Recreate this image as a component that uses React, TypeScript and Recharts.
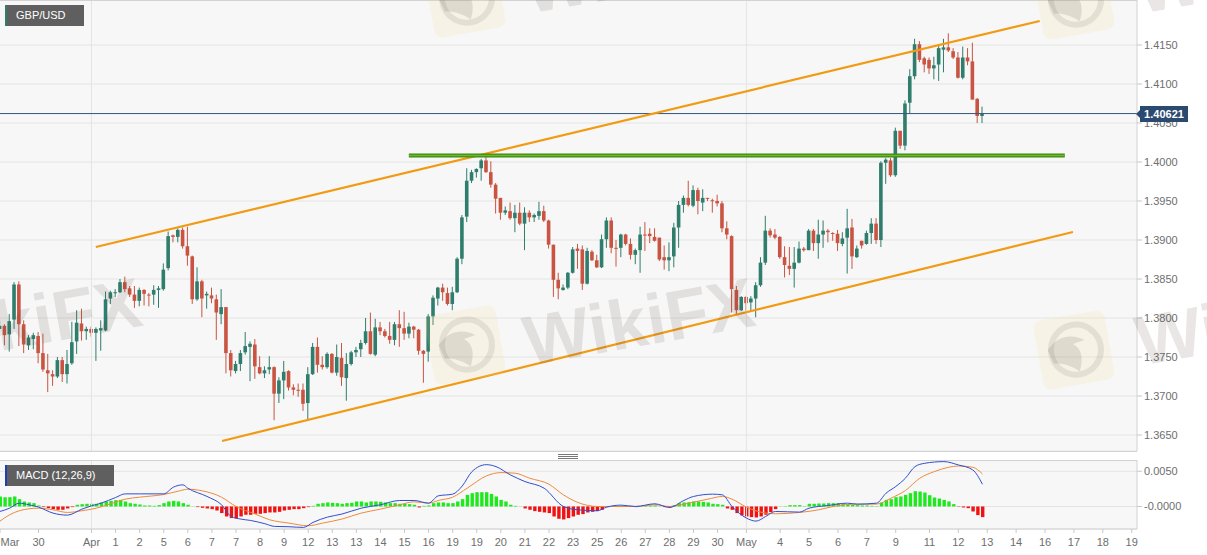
import { Bar, CartesianGrid, Cell, ComposedChart, Line, ReferenceLine, XAxis, YAxis } from 'recharts'

const opens = [
  1.3786, 1.379, 1.3779, 1.3798, 1.3843, 1.3792, 1.3765, 1.3773, 1.3777, 1.3755, 1.3733, 1.3728, 1.3725, 1.3746, 1.3728, 1.3742, 1.377, 1.3793, 1.3783, 1.3786,
  1.3781, 1.3784, 1.3784, 1.3825, 1.3832, 1.3833, 1.3846, 1.3838, 1.383, 1.3822, 1.3836, 1.383, 1.383, 1.3836, 1.3837, 1.3864, 1.3906, 1.3904, 1.3913, 1.3892,
  1.3879, 1.3824, 1.3847, 1.3829, 1.3829, 1.3824, 1.3805, 1.3814, 1.3755, 1.3732, 1.3741, 1.3756, 1.3763, 1.3766, 1.3737, 1.3729, 1.3734, 1.3737, 1.3703, 1.372,
  1.3732, 1.3711, 1.3708, 1.3708, 1.3691, 1.3728, 1.3763, 1.374, 1.3737, 1.3754, 1.373, 1.3749, 1.3723, 1.3741, 1.3756, 1.376, 1.3768, 1.3783, 1.3753, 1.3788,
  1.3783, 1.3777, 1.3772, 1.3792, 1.3787, 1.378, 1.3789, 1.3785, 1.3758, 1.3757, 1.3802, 1.3825, 1.3839, 1.3832, 1.3818, 1.3833, 1.3876, 1.393, 1.3976, 1.3987,
  1.3992, 1.4002, 1.3987, 1.3971, 1.3954, 1.3935, 1.3937, 1.3928, 1.3935, 1.3921, 1.3935, 1.3929, 1.3931, 1.3937, 1.3925, 1.3894, 1.3849, 1.3836, 1.3839, 1.3858,
  1.3889, 1.3888, 1.3844, 1.3885, 1.3874, 1.3865, 1.3901, 1.3925, 1.389, 1.389, 1.3907, 1.3895, 1.3881, 1.3887, 1.3907, 1.3908, 1.3904, 1.3903, 1.3878, 1.3874,
  1.3879, 1.3916, 1.3945, 1.3954, 1.3944, 1.3964, 1.3948, 1.3954, 1.3951, 1.395, 1.3947, 1.3915, 1.3905, 1.3836, 1.381, 1.3827, 1.382, 1.3825, 1.3842, 1.3871,
  1.3912, 1.3907, 1.3904, 1.3878, 1.3867, 1.3863, 1.3871, 1.3889, 1.3887, 1.3912, 1.3896, 1.3907, 1.3912, 1.3909, 1.3908, 1.3895, 1.3903, 1.3916, 1.3878, 1.3899,
  1.3895, 1.3909, 1.3921, 1.39, 1.3999, 1.4002, 1.3983, 1.404, 1.4021, 1.4076, 1.411, 1.4151, 1.4133, 1.4131, 1.412, 1.4125, 1.4144, 1.4147, 1.4142, 1.4134,
  1.4108, 1.4134, 1.4129, 1.4081, 1.4059,
]
const closes = [
  1.379, 1.3778, 1.3796, 1.3843, 1.3792, 1.3766, 1.3775, 1.3778, 1.3755, 1.3734, 1.3729, 1.3725, 1.3746, 1.3728, 1.3741, 1.3769, 1.3794, 1.3783, 1.3786, 1.3781,
  1.3786, 1.3787, 1.3824, 1.3833, 1.3833, 1.3846, 1.3837, 1.383, 1.3822, 1.3836, 1.3831, 1.3829, 1.3836, 1.3838, 1.3862, 1.3905, 1.3904, 1.3913, 1.3892, 1.388,
  1.3824, 1.3847, 1.3825, 1.3831, 1.3825, 1.3807, 1.3814, 1.3755, 1.3733, 1.3741, 1.3755, 1.3764, 1.3767, 1.3738, 1.3729, 1.3733, 1.3737, 1.3703, 1.372, 1.3731,
  1.3711, 1.3708, 1.3707, 1.369, 1.3728, 1.3763, 1.374, 1.3737, 1.3754, 1.373, 1.375, 1.3724, 1.3741, 1.3756, 1.3759, 1.3768, 1.3783, 1.3754, 1.3788, 1.3783,
  1.3777, 1.3772, 1.3792, 1.3787, 1.378, 1.3789, 1.3785, 1.3758, 1.3754, 1.3802, 1.3826, 1.3839, 1.3833, 1.3818, 1.3833, 1.3876, 1.3929, 1.3976, 1.3987, 1.3991,
  1.4002, 1.3987, 1.3971, 1.3953, 1.3935, 1.3938, 1.3928, 1.3935, 1.3921, 1.3935, 1.3929, 1.3932, 1.3937, 1.3925, 1.3894, 1.3849, 1.3838, 1.3839, 1.3858, 1.3888,
  1.3886, 1.3844, 1.3886, 1.3874, 1.3865, 1.3901, 1.3925, 1.389, 1.3889, 1.3907, 1.3895, 1.3881, 1.3887, 1.3907, 1.3906, 1.3905, 1.3899, 1.3875, 1.3874, 1.3878,
  1.3916, 1.3945, 1.3954, 1.3945, 1.3964, 1.395, 1.3954, 1.3953, 1.395, 1.3947, 1.3915, 1.3907, 1.3837, 1.381, 1.3827, 1.3819, 1.3825, 1.3842, 1.3871, 1.3912,
  1.3906, 1.3903, 1.3878, 1.3868, 1.3863, 1.3871, 1.3889, 1.3887, 1.3912, 1.3896, 1.3907, 1.3912, 1.391, 1.3908, 1.3896, 1.3902, 1.3915, 1.3879, 1.3889, 1.3893,
  1.3909, 1.3921, 1.39, 1.3999, 1.4003, 1.3983, 1.404, 1.4021, 1.4075, 1.411, 1.4151, 1.4131, 1.4125, 1.412, 1.4124, 1.4146, 1.4147, 1.4143, 1.4134, 1.4108,
  1.4134, 1.4129, 1.408, 1.4059, 1.4062,
]
const highs = [
  1.3797, 1.3792, 1.3805, 1.3846, 1.3847, 1.3797, 1.3778, 1.3781, 1.3782, 1.378, 1.3754, 1.3733, 1.375, 1.375, 1.3759, 1.3795, 1.381, 1.3812, 1.3789, 1.3789,
  1.3788, 1.3797, 1.3834, 1.3835, 1.3837, 1.385, 1.3853, 1.3841, 1.3841, 1.3839, 1.3837, 1.3832, 1.3842, 1.3841, 1.387, 1.3911, 1.3907, 1.3915, 1.3916, 1.3917,
  1.388, 1.3865, 1.3849, 1.3834, 1.3839, 1.383, 1.3837, 1.3814, 1.3759, 1.3745, 1.3759, 1.3782, 1.377, 1.3773, 1.3751, 1.3738, 1.3751, 1.3738, 1.3724, 1.3745,
  1.3733, 1.3715, 1.3716, 1.3716, 1.3737, 1.3768, 1.3775, 1.3751, 1.3756, 1.3755, 1.3766, 1.3768, 1.3755, 1.3758, 1.3763, 1.3772, 1.38, 1.3807, 1.3799, 1.3795,
  1.3786, 1.3795, 1.3795, 1.381, 1.3808, 1.3794, 1.379, 1.3786, 1.3759, 1.3805, 1.3829, 1.384, 1.3844, 1.3839, 1.384, 1.3878, 1.3932, 1.3992, 1.399, 1.3992,
  1.4004, 1.401, 1.4001, 1.3973, 1.3954, 1.3943, 1.3948, 1.3945, 1.3948, 1.3942, 1.3938, 1.3934, 1.3949, 1.3944, 1.3926, 1.3894, 1.3858, 1.3843, 1.3859, 1.3891,
  1.3895, 1.3893, 1.389, 1.3887, 1.3881, 1.3907, 1.3929, 1.3929, 1.39, 1.3908, 1.3908, 1.3902, 1.3889, 1.3917, 1.3923, 1.3915, 1.3915, 1.3903, 1.3893, 1.3897,
  1.3922, 1.395, 1.3957, 1.3976, 1.397, 1.3967, 1.3965, 1.3954, 1.3953, 1.3958, 1.395, 1.3924, 1.3906, 1.3841, 1.3828, 1.3828, 1.3828, 1.3846, 1.3878, 1.3931,
  1.3915, 1.3914, 1.3905, 1.3892, 1.3891, 1.3891, 1.3898, 1.3891, 1.3914, 1.3914, 1.3926, 1.3925, 1.3914, 1.391, 1.3913, 1.391, 1.394, 1.3927, 1.3893, 1.3899,
  1.3912, 1.3928, 1.3928, 1.4001, 1.4005, 1.4005, 1.4044, 1.404, 1.4079, 1.4119, 1.4158, 1.4155, 1.4135, 1.4134, 1.4135, 1.4151, 1.4158, 1.4165, 1.4146, 1.4141,
  1.4148, 1.4146, 1.4153, 1.4082, 1.4071,
]
const lows = [
  1.3777, 1.3765, 1.3757, 1.3786, 1.3764, 1.3755, 1.3759, 1.376, 1.3742, 1.3731, 1.3705, 1.3713, 1.3723, 1.3718, 1.3716, 1.374, 1.3754, 1.3771, 1.3772, 1.3776,
  1.3745, 1.3758, 1.3783, 1.3818, 1.3827, 1.3832, 1.3833, 1.3827, 1.3813, 1.3815, 1.3816, 1.3815, 1.3817, 1.3813, 1.3835, 1.3861, 1.3897, 1.3897, 1.3889, 1.3867,
  1.3818, 1.3822, 1.3801, 1.3812, 1.3819, 1.3772, 1.3792, 1.3729, 1.3725, 1.3729, 1.3732, 1.3753, 1.3719, 1.3722, 1.3728, 1.3723, 1.3728, 1.3669, 1.3691, 1.3696,
  1.3707, 1.3701, 1.3699, 1.3681, 1.3669, 1.3727, 1.373, 1.3734, 1.3735, 1.3729, 1.3726, 1.3713, 1.3694, 1.3739, 1.375, 1.375, 1.3766, 1.3753, 1.3751, 1.3778,
  1.3775, 1.3767, 1.3765, 1.3763, 1.3772, 1.3774, 1.3774, 1.3753, 1.3717, 1.3744, 1.3791, 1.3816, 1.3822, 1.3816, 1.381, 1.3832, 1.3869, 1.3923, 1.3973, 1.398,
  1.3976, 1.3986, 1.3967, 1.3934, 1.3926, 1.3932, 1.3926, 1.391, 1.3919, 1.3887, 1.3923, 1.3923, 1.3926, 1.3923, 1.3889, 1.3827, 1.3824, 1.3835, 1.3837, 1.3857,
  1.3863, 1.3836, 1.3843, 1.3873, 1.3864, 1.3864, 1.389, 1.3883, 1.3866, 1.3878, 1.3893, 1.3875, 1.3869, 1.3858, 1.3886, 1.3896, 1.3898, 1.3873, 1.3862, 1.386,
  1.3865, 1.389, 1.3935, 1.3943, 1.3942, 1.3933, 1.3937, 1.395, 1.3935, 1.3943, 1.391, 1.3901, 1.3807, 1.3804, 1.3809, 1.3809, 1.3809, 1.3801, 1.384, 1.3868,
  1.3903, 1.3901, 1.3876, 1.3852, 1.3855, 1.3839, 1.387, 1.3885, 1.3887, 1.3886, 1.3876, 1.389, 1.3897, 1.3899, 1.3886, 1.3892, 1.3857, 1.3863, 1.3877, 1.3889,
  1.3894, 1.3895, 1.3895, 1.3891, 1.3972, 1.3981, 1.3981, 1.4017, 1.4015, 1.4062, 1.4106, 1.4128, 1.4115, 1.4113, 1.4106, 1.4104, 1.4115, 1.4141, 1.4132, 1.4107,
  1.4106, 1.4124, 1.408, 1.405, 1.405,
]
const histogram = [
  0.00142, 0.00132, 0.00132, 0.00142, 0.00104, 0.00071, 0.00057, 0.00047, 0.00014, -0.00009, -0.00024, -0.00038, -0.00047, -0.00047, -0.00028, -0.00009, 0.00024, 0.00033, 0.00038, 0.00038,
  0.00038, 0.00057, 0.00071, 0.0008, 0.0009, 0.00094, 0.00071, 0.00047, 0.00038, 0.00028, 0.00014, 0.00014, 0.00009, 0.00019, 0.00047, 0.00071, 0.0008, 0.00071, 0.00047, 0.00024,
  0.00002, -0.00009, -0.00019, -0.00028, -0.00038, -0.00057, -0.00094, -0.00142, -0.00165, -0.0017, -0.00142, -0.00118, -0.00118, -0.00104, -0.00104, -0.00094, -0.00085, -0.00085, -0.00076, -0.00057,
  -0.00047, -0.00038, -0.00038, -0.00024, -0.00009, 0.00009, 0.00038, 0.00047, 0.00057, 0.00052, 0.00047, 0.00038, 0.00047, 0.00052, 0.00071, 0.00071, 0.00057, 0.00071, 0.00071, 0.00066,
  0.00057, 0.00047, 0.00047, 0.00038, 0.00038, 0.00033, 0.00024, -0.00014, 0.00009, 0.00014, 0.00047, 0.00057, 0.00057, 0.00047, 0.00047, 0.00071, 0.00104, 0.00165, 0.00189, 0.00203,
  0.00203, 0.00203, 0.00179, 0.00142, 0.00094, 0.00071, 0.00024, 0.00009, 0.00002, -0.00028, -0.00047, -0.00066, -0.00076, -0.00085, -0.00094, -0.00142, -0.00175, -0.00184, -0.00165, -0.00142,
  -0.00118, -0.00108, -0.00085, -0.00076, -0.00066, -0.00047, -0.00009, 0.00002, 0.00009, 0.00009, 0.00009, 0.00005, -0.00009, 0.00002, 0.00009, 0.00014, 0.00014, 0.00002, -0.00009, -0.00019,
  0.00019, 0.00047, 0.00057, 0.00061, 0.00071, 0.00071, 0.00066, 0.00057, 0.00038, 0.00033, 0.00024, -0.00028, -0.00047, -0.00094, -0.00127, -0.00142, -0.00151, -0.00156, -0.00142, -0.00118,
  -0.0008, -0.00038, 0.00002, 0.00005, 0.00019, 0.00019, 0.00019, 0.00005, 0.00038, 0.00038, 0.00042, 0.00042, 0.00047, 0.00047, 0.00047, 0.00038, 0.00033, 0.00024, 0.00019, 0.00014,
  0.00014, 0.00009, 0.00005, 0.00057, 0.00094, 0.00104, 0.00132, 0.00142, 0.00165, 0.00189, 0.00217, 0.00212, 0.00198, 0.0016, 0.00127, 0.00113, 0.00094, 0.00071, 0.00033, -0.00005,
  -0.00014, -0.00024, -0.00071, -0.00123, -0.00151,
]

// MACD and signal lines are read at the turning points only
const macdAt = [0, 2, 4, 6, 8, 11, 14, 17, 19, 21, 24, 26, 29, 34, 36, 38, 39, 43, 46, 48, 50, 52, 55, 57, 60, 63, 65, 68, 71, 75, 79, 83, 86, 89, 91, 94, 96, 98, 101, 103, 106, 109, 113, 117, 120, 124, 126, 129, 132, 136, 139, 142, 144, 148, 150, 152, 155, 157, 159, 161, 166, 168, 172, 176, 178, 182, 184, 186, 188, 190, 192, 196, 199, 202, 204]
const macdValues = [-0.00071, -0.00024, 0.00047, 0.00024, -0.00009, -0.00094, -0.00123, -0.00038, 0.00009, 0.00047, 0.00127, 0.00179, 0.00179, 0.00179, 0.00274, 0.00307, 0.00259, 0.00142, 0.00024, -0.00142, -0.00179, -0.00198, -0.00245, -0.00283, -0.00288, -0.00297, -0.00226, -0.00151, -0.00108, -0.00024, 0.00024, 0.00085, 0.00085, 0.00047, 0.00151, 0.00175, 0.00292, 0.00495, 0.00594, 0.00566, 0.00448, 0.00354, 0.00259, 0, -0.00047, -0.00061, -0.00009, 0.00019, 0, 0.00038, -0.00014, 0.00085, 0.00142, 0.00175, 0.00165, 0, -0.00165, -0.00208, -0.00142, -0.00071, -0.0008, -0.00024, 0.00014, 0.00047, 0.00033, 0.00047, 0.00189, 0.00283, 0.00401, 0.00566, 0.00613, 0.00637, 0.0059, 0.00519, 0.00316]
const signalAt = [0, 2, 4, 6, 8, 11, 14, 17, 20, 23, 26, 29, 34, 37, 39, 42, 46, 49, 53, 56, 60, 64, 67, 71, 75, 79, 83, 86, 89, 91, 94, 97, 101, 104, 107, 110, 114, 117, 120, 124, 127, 132, 136, 139, 143, 147, 150, 152, 155, 159, 161, 166, 170, 173, 178, 182, 185, 188, 191, 194, 197, 199, 202, 204]
const signalValues = [-0.00208, -0.00118, -0.00061, -0.00033, -0.00024, -0.00047, -0.00085, -0.00061, -0.00024, 0.00038, 0.00104, 0.00132, 0.0017, 0.00217, 0.00245, 0.00222, 0.00132, 0, -0.00108, -0.00189, -0.00236, -0.00274, -0.00236, -0.00179, -0.00094, -0.00038, 0.00024, 0.00066, 0.00047, 0.00085, 0.00132, 0.00259, 0.00434, 0.00481, 0.00472, 0.00401, 0.00316, 0.00165, 0.00057, 0, 0, 0, 0.00024, 0, 0.00047, 0.00104, 0.00142, 0.00104, -0.00009, -0.00094, -0.00104, -0.00085, -0.00047, 0, 0.00033, 0.00033, 0.00118, 0.00226, 0.00401, 0.00495, 0.00557, 0.00575, 0.00557, 0.00462]

const priceTicks = [1.365, 1.37, 1.375, 1.38, 1.385, 1.39, 1.395, 1.4, 1.405, 1.41, 1.415]
const macdTicks = [0, 0.005]
const dateTickAt = [0, 8, 19, 24, 29, 34, 39, 44, 49, 54, 59, 64, 69, 74, 79, 84, 89, 94, 99, 104, 109, 114, 119, 124, 129, 134, 139, 144, 149, 155, 162, 168, 174, 180, 186, 193, 199, 205, 211, 217, 223, 229, 235]
const dateTickLabels = ['Mar', '30', 'Apr', '1', '2', '5', '6', '7', '7', '8', '9', '12', '13', '13', '14', '15', '16', '19', '19', '20', '21', '22', '23', '25', '26', '27', '28', '29', '30', 'May', '4', '5', '6', '7', '9', '11', '12', '13', '14', '16', '17', '18', '19']
const monthLinesAt = [19, 155]

const lastPrice = 1.40621
const upperChannel = [{ x: 19.9, y: 1.3891 }, { x: 215.9, y: 1.41808 }]
const lowerChannel = [{ x: 46.1, y: 1.36423 }, { x: 222.8, y: 1.39103 }]
const supportZone = [{ x: 84.9, y: 1.40083 }, { x: 221.1, y: 1.40083 }]

const FONT = '"Liberation Sans", Arial, sans-serif'
const UP = '#2f7d6c'
const DOWN = '#c95442'
const GRID = '#e4e4e4'
const BORDER = '#d2d2d2'
const PANEL = '#f7f7f7'
const X_MAX = 236.1

const candles = opens.map((open, i) => ({
  i,
  open,
  close: closes[i],
  range: [lows[i], highs[i]],
}))

const macdRows = histogram.map((hist, i) => {
  const m = macdAt.indexOf(i)
  const s = signalAt.indexOf(i)
  return {
    i,
    hist,
    macd: m >= 0 ? macdValues[m] : null,
    signal: s >= 0 ? signalValues[s] : null,
  }
})

function Candle(props: any) {
  const { x, y, width, height, payload } = props
  const hi = payload.range[1]
  const lo = payload.range[0]
  const span = hi - lo || 1
  const top = y + ((hi - Math.max(payload.open, payload.close)) / span) * height
  const bottom = y + ((hi - Math.min(payload.open, payload.close)) / span) * height
  const color = payload.close >= payload.open ? UP : DOWN
  const cx = x + width / 2
  return (
    <g>
      <line x1={cx} x2={cx} y1={y} y2={y + height} stroke={color} strokeWidth={1} />
      <rect x={cx - 1.8} y={top} width={3.6} height={Math.max(bottom - top, 1)} fill={color} />
    </g>
  )
}

function DateTick(props: any) {
  const { x, y, payload } = props
  const label = dateTickLabels[dateTickAt.indexOf(payload.value)]
  return (
    <text x={Math.max(x, 10)} y={y + 11} textAnchor="middle" fontSize={11} fontFamily={FONT} fill="#6e6e6e">
      {label}
    </text>
  )
}

function Tag({ left, top, width, accent, text }: { left: number; top: number; width: number; accent: string; text: string }) {
  return (
    <div
      style={{
        position: 'absolute',
        left,
        top,
        width: width - 11,
        height: 21,
        lineHeight: '21px',
        paddingLeft: 9,
        background: '#5f5f5f',
        borderLeft: `2px solid ${accent}`,
        color: '#fff',
        fontSize: 11,
        fontFamily: FONT,
      }}
    >
      {text}
    </div>
  )
}

// Faint site stamp laid over the chart
function LogoMark({ cx, cy }: { cx: number; cy: number }) {
  return (
    <svg
      width={96}
      height={96}
      viewBox="-48 -48 96 96"
      style={{ position: 'absolute', left: cx - 48, top: cy - 48 }}
    >
      <g transform="rotate(-10)">
        <rect x={-36} y={-35} width={72} height={70} rx={8} fill="#f3d98a" fillOpacity={0.16} />
        <circle cx={2} cy={0} r={25} fill="none" stroke="#6b625c" strokeOpacity={0.13} strokeWidth={6} />
        <path d="M-26 -4 C-14 -18 2 -16 12 -8 L0 -6 C8 0 8 10 2 22 C-6 14 -16 10 -22 10 Z" fill="#6b625c" fillOpacity={0.17} />
      </g>
    </svg>
  )
}

function WordMark({ cx, cy }: { cx: number; cy: number }) {
  return (
    <div
      style={{
        position: 'absolute',
        left: cx - 150,
        top: cy - 45,
        width: 300,
        height: 90,
        lineHeight: '90px',
        textAlign: 'center',
        fontFamily: FONT,
        fontWeight: 700,
        fontSize: 70,
        color: '#5a4a42',
        opacity: 0.13,
        transform: 'rotate(-10deg)',
      }}
    >
      WikiFX
    </div>
  )
}

export default function App() {
  return (
    <div style={{ position: 'absolute', left: 0, top: 0, width: 1207, height: 555, background: '#fff', overflow: 'hidden' }}>
      {/* Price panel */}
      <div style={{ position: 'absolute', left: 0, top: 0 }}>
        <ComposedChart width={1207} height={451} data={candles} margin={{ top: 0, right: 0, left: 0, bottom: 0 }}>
          <CartesianGrid vertical={false} stroke={GRID} fill={PANEL} fillOpacity={1} />
          <XAxis type="number" dataKey="i" domain={[0, X_MAX]} allowDataOverflow hide />
          <YAxis
            orientation="right"
            width={70}
            domain={[1.36295, 1.42077]}
            allowDataOverflow
            ticks={priceTicks}
            interval={0}
            tickFormatter={(v: number) => v.toFixed(4)}
            tick={{ fontSize: 11, fill: '#6e6e6e', fontFamily: FONT }}
            tickSize={5}
            tickMargin={2}
            tickLine={{ stroke: '#c8c8c8' }}
            axisLine={{ stroke: BORDER }}
          />
          {monthLinesAt.map((m) => (
            <ReferenceLine key={m} x={m} stroke={GRID} />
          ))}
          <ReferenceLine y={lastPrice} stroke="#34557f" strokeWidth={1} />
          <Bar dataKey="range" barSize={4} shape={<Candle />} isAnimationActive={false} />
          <ReferenceLine segment={upperChannel} stroke="#f29a12" strokeWidth={2.2} ifOverflow="visible" />
          <ReferenceLine segment={lowerChannel} stroke="#f29a12" strokeWidth={2.2} ifOverflow="visible" />
          <ReferenceLine segment={supportZone} stroke="#3c8a10" strokeWidth={4} ifOverflow="visible" />
          <ReferenceLine segment={supportZone} stroke="#6fb82d" strokeWidth={1.5} ifOverflow="visible" />
        </ComposedChart>
      </div>

      {/* Panel top edge and drag handle */}
      <div style={{ position: 'absolute', left: 0, top: 0, width: 1137, height: 1, background: BORDER }} />
      <div style={{ position: 'absolute', left: 0, top: 451, width: 1137, height: 1, background: BORDER }} />
      <div style={{ position: 'absolute', left: 558, top: 454, width: 20, height: 1, background: '#777' }} />
      <div style={{ position: 'absolute', left: 558, top: 456, width: 20, height: 1, background: '#777' }} />
      <div style={{ position: 'absolute', left: 558, top: 458, width: 20, height: 1, background: '#777' }} />

      {/* MACD panel */}
      <div style={{ position: 'absolute', left: 0, top: 460 }}>
        <ComposedChart width={1207} height={95} data={macdRows} margin={{ top: 0, right: 0, left: 0, bottom: 0 }} barCategoryGap={0}>
          <CartesianGrid vertical={false} stroke={GRID} fill={PANEL} fillOpacity={1} />
          <XAxis
            type="number"
            dataKey="i"
            domain={[0, X_MAX]}
            allowDataOverflow
            ticks={dateTickAt}
            interval={0}
            height={26}
            tick={<DateTick />}
            tickSize={4}
            tickLine={{ stroke: '#c8c8c8' }}
            axisLine={{ stroke: BORDER }}
          />
          <YAxis
            orientation="right"
            width={70}
            domain={[-0.0032, 0.0066]}
            allowDataOverflow
            ticks={macdTicks}
            interval={0}
            tickFormatter={(v: number) => (v === 0 ? '-0.0000' : v.toFixed(4))}
            tick={{ fontSize: 11, fill: '#6e6e6e', fontFamily: FONT }}
            tickSize={5}
            tickMargin={2}
            tickLine={{ stroke: '#c8c8c8' }}
            axisLine={{ stroke: BORDER }}
          />
          {monthLinesAt.map((m) => (
            <ReferenceLine key={m} x={m} stroke={GRID} />
          ))}
          <Bar dataKey="hist" barSize={3.4} isAnimationActive={false}>
            {macdRows.map((row) => (
              <Cell key={row.i} fill={row.hist >= 0 ? '#1fe81f' : '#f01212'} />
            ))}
          </Bar>
          <Line dataKey="signal" type="monotone" stroke="#ef8a3c" strokeWidth={1} dot={false} connectNulls isAnimationActive={false} />
          <Line dataKey="macd" type="monotone" stroke="#2f4fd0" strokeWidth={1} dot={false} connectNulls isAnimationActive={false} />
        </ComposedChart>
      </div>
      <div style={{ position: 'absolute', left: 0, top: 460, width: 1137, height: 1, background: BORDER }} />

      <Tag left={5} top={5} width={79} accent="#2f7d6c" text="GBP/USD" />
      <Tag left={5} top={465} width={109} accent="#1f3fb0" text="MACD (12,26,9)" />

      {/* Last price flag */}
      <div
        style={{
          position: 'absolute',
          left: 1136,
          top: 110,
          width: 0,
          height: 0,
          borderTop: '4px solid transparent',
          borderBottom: '4px solid transparent',
          borderRight: '4px solid #2b4a6f',
        }}
      />
      <div
        style={{
          position: 'absolute',
          left: 1140,
          top: 106,
          width: 48,
          height: 16,
          lineHeight: '16px',
          textAlign: 'center',
          background: '#2b4a6f',
          color: '#fff',
          fontFamily: FONT,
          fontWeight: 700,
          fontSize: 11,
        }}
      >
        {lastPrice.toFixed(5)}
      </div>

      <div style={{ position: 'absolute', left: 0, top: 0, width: 1207, height: 555, overflow: 'hidden', pointerEvents: 'none' }}>
        <LogoMark cx={465} cy={-2} />
        <LogoMark cx={1074} cy={0} />
        <LogoMark cx={465} cy={345} />
        <LogoMark cx={1074} cy={350} />
        <WordMark cx={26} cy={322} />
        <WordMark cx={639} cy={322} />
        <WordMark cx={1251} cy={322} />
        <WordMark cx={639} cy={-30} />
        <WordMark cx={1251} cy={-30} />
      </div>
    </div>
  )
}
